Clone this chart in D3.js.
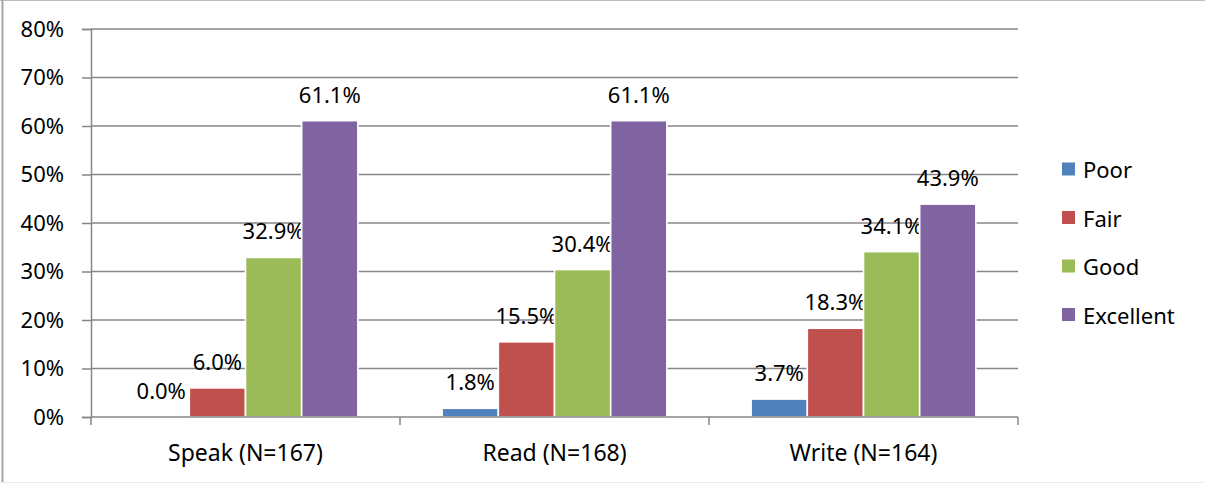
<!DOCTYPE html>
<html><head><meta charset="utf-8">
<script src="https://cdn.jsdelivr.net/npm/d3@7"></script>
<style>body{margin:0;background:#fff;} svg{display:block;} text{font-family:"Noto Sans",sans-serif;fill:#000;}</style>
</head><body>
<svg id="c" width="1205" height="483"></svg>
<script>
const categories = ["Speak (N=167)", "Read (N=168)", "Write (N=164)"];
const seriesNames = ["Poor", "Fair", "Good", "Excellent"];
const poor = [0.0, 1.8, 3.7];
const fair = [6.0, 15.5, 18.3];
const good = [32.9, 30.4, 34.1];
const excellent = [61.1, 61.1, 43.9];
const colors = ["#4F81BD", "#C0504D", "#9BBB59", "#8064A2"];
const yTicks = [0, 10, 20, 30, 40, 50, 60, 70, 80];

(function () {
const values = [poor, fair, good, excellent];
const svg = d3.select("#c");
const W = 1205, H = 483;
const pLeft = 91, pRight = 1018, pTop = 29, pBottom = 417;
const fs = 22;

// frame
svg.append("line").attr("x1",0).attr("x2",W).attr("y1",0.5).attr("y2",0.5).attr("stroke","#bdbdbd");
svg.append("line").attr("x1",2.5).attr("x2",2.5).attr("y1",0).attr("y2",H).attr("stroke","#a6a6a6").attr("stroke-width",2);
svg.append("line").attr("x1",0).attr("x2",W).attr("y1",482.5).attr("y2",482.5).attr("stroke","#ececec");

const y = d3.scaleLinear().domain([0, 80]).range([pBottom, pTop]);
const x0 = d3.scaleBand().domain(categories).range([pLeft, pRight]);
const x1 = d3.scaleBand().domain(seriesNames).range([0, x0.bandwidth()]).paddingInner(0).paddingOuter(0.75);

// gridlines + y axis
const yAxis = d3.axisLeft(y).tickValues(yTicks).tickFormat(d => d + "%").tickSize(9).tickPadding(18);
const gy = svg.append("g").attr("transform", `translate(${pLeft},0)`).call(yAxis);
gy.select(".domain").attr("stroke", "#868686").attr("stroke-width", 1.5);
gy.selectAll(".tick line").attr("stroke", "#868686").attr("stroke-width", 1.5);
gy.selectAll(".tick text").style("font-size", fs + "px").attr("fill", "#000");
svg.append("g").selectAll("line").data(yTicks.filter(d => d > 0)).join("line")
  .attr("x1", pLeft).attr("x2", pRight).attr("y1", d => y(d)).attr("y2", d => y(d))
  .attr("stroke", "#868686").attr("stroke-width", 1.5);

// bars
const groups = svg.append("g").selectAll("g").data(categories).join("g")
  .attr("transform", d => `translate(${x0(d)},0)`);
groups.each(function(cat, ci) {
  const g = d3.select(this);
  seriesNames.forEach((s, si) => {
    const v = values[si][ci];
    g.append("rect").attr("x", x1(s)).attr("width", x1.bandwidth())
      .attr("y", y(v)).attr("height", y(0) - y(v))
      .attr("fill", colors[si]).attr("stroke", "#fff").attr("stroke-width", 1.6);
    g.append("text").attr("x", x1(s) + x1.bandwidth() / 2).attr("y", y(v) - 27)
      .attr("text-anchor", "middle").attr("dominant-baseline", "central")
      .style("font-size", fs + "px").text(v.toFixed(1) + "%");
  });
});

// x axis
const gx = svg.append("g").attr("transform", `translate(0,${pBottom})`);
gx.append("line").attr("x1", pLeft).attr("x2", pRight).attr("stroke", "#868686").attr("stroke-width", 1.5);
const bounds = categories.map(c => x0(c)).concat([x0(categories[categories.length-1]) + x0.bandwidth()]);
gx.selectAll("line.t").data(bounds).join("line").attr("class","t")
  .attr("x1", d => d).attr("x2", d => d).attr("y1", 0).attr("y2", 8)
  .attr("stroke", "#868686").attr("stroke-width", 1.5);
gx.selectAll("text").data(categories).join("text")
  .attr("x", d => x0(d) + x0.bandwidth() / 2).attr("y", 35)
  .attr("text-anchor", "middle").attr("dominant-baseline", "central")
  .style("font-size", "23px").text(d => d);

// legend
const lg = svg.append("g").selectAll("g").data(seriesNames).join("g")
  .attr("transform", (d, i) => `translate(1062,${169 + i * 48.5})`);
lg.append("rect").attr("x", 0).attr("y", -6.5).attr("width", 13).attr("height", 13).attr("fill", (d, i) => colors[i]);
lg.append("text").attr("x", 21).attr("y", 0).attr("dominant-baseline", "central")
  .style("font-size", fs + "px").text(d => d);
})();
</script>
</body></html>
